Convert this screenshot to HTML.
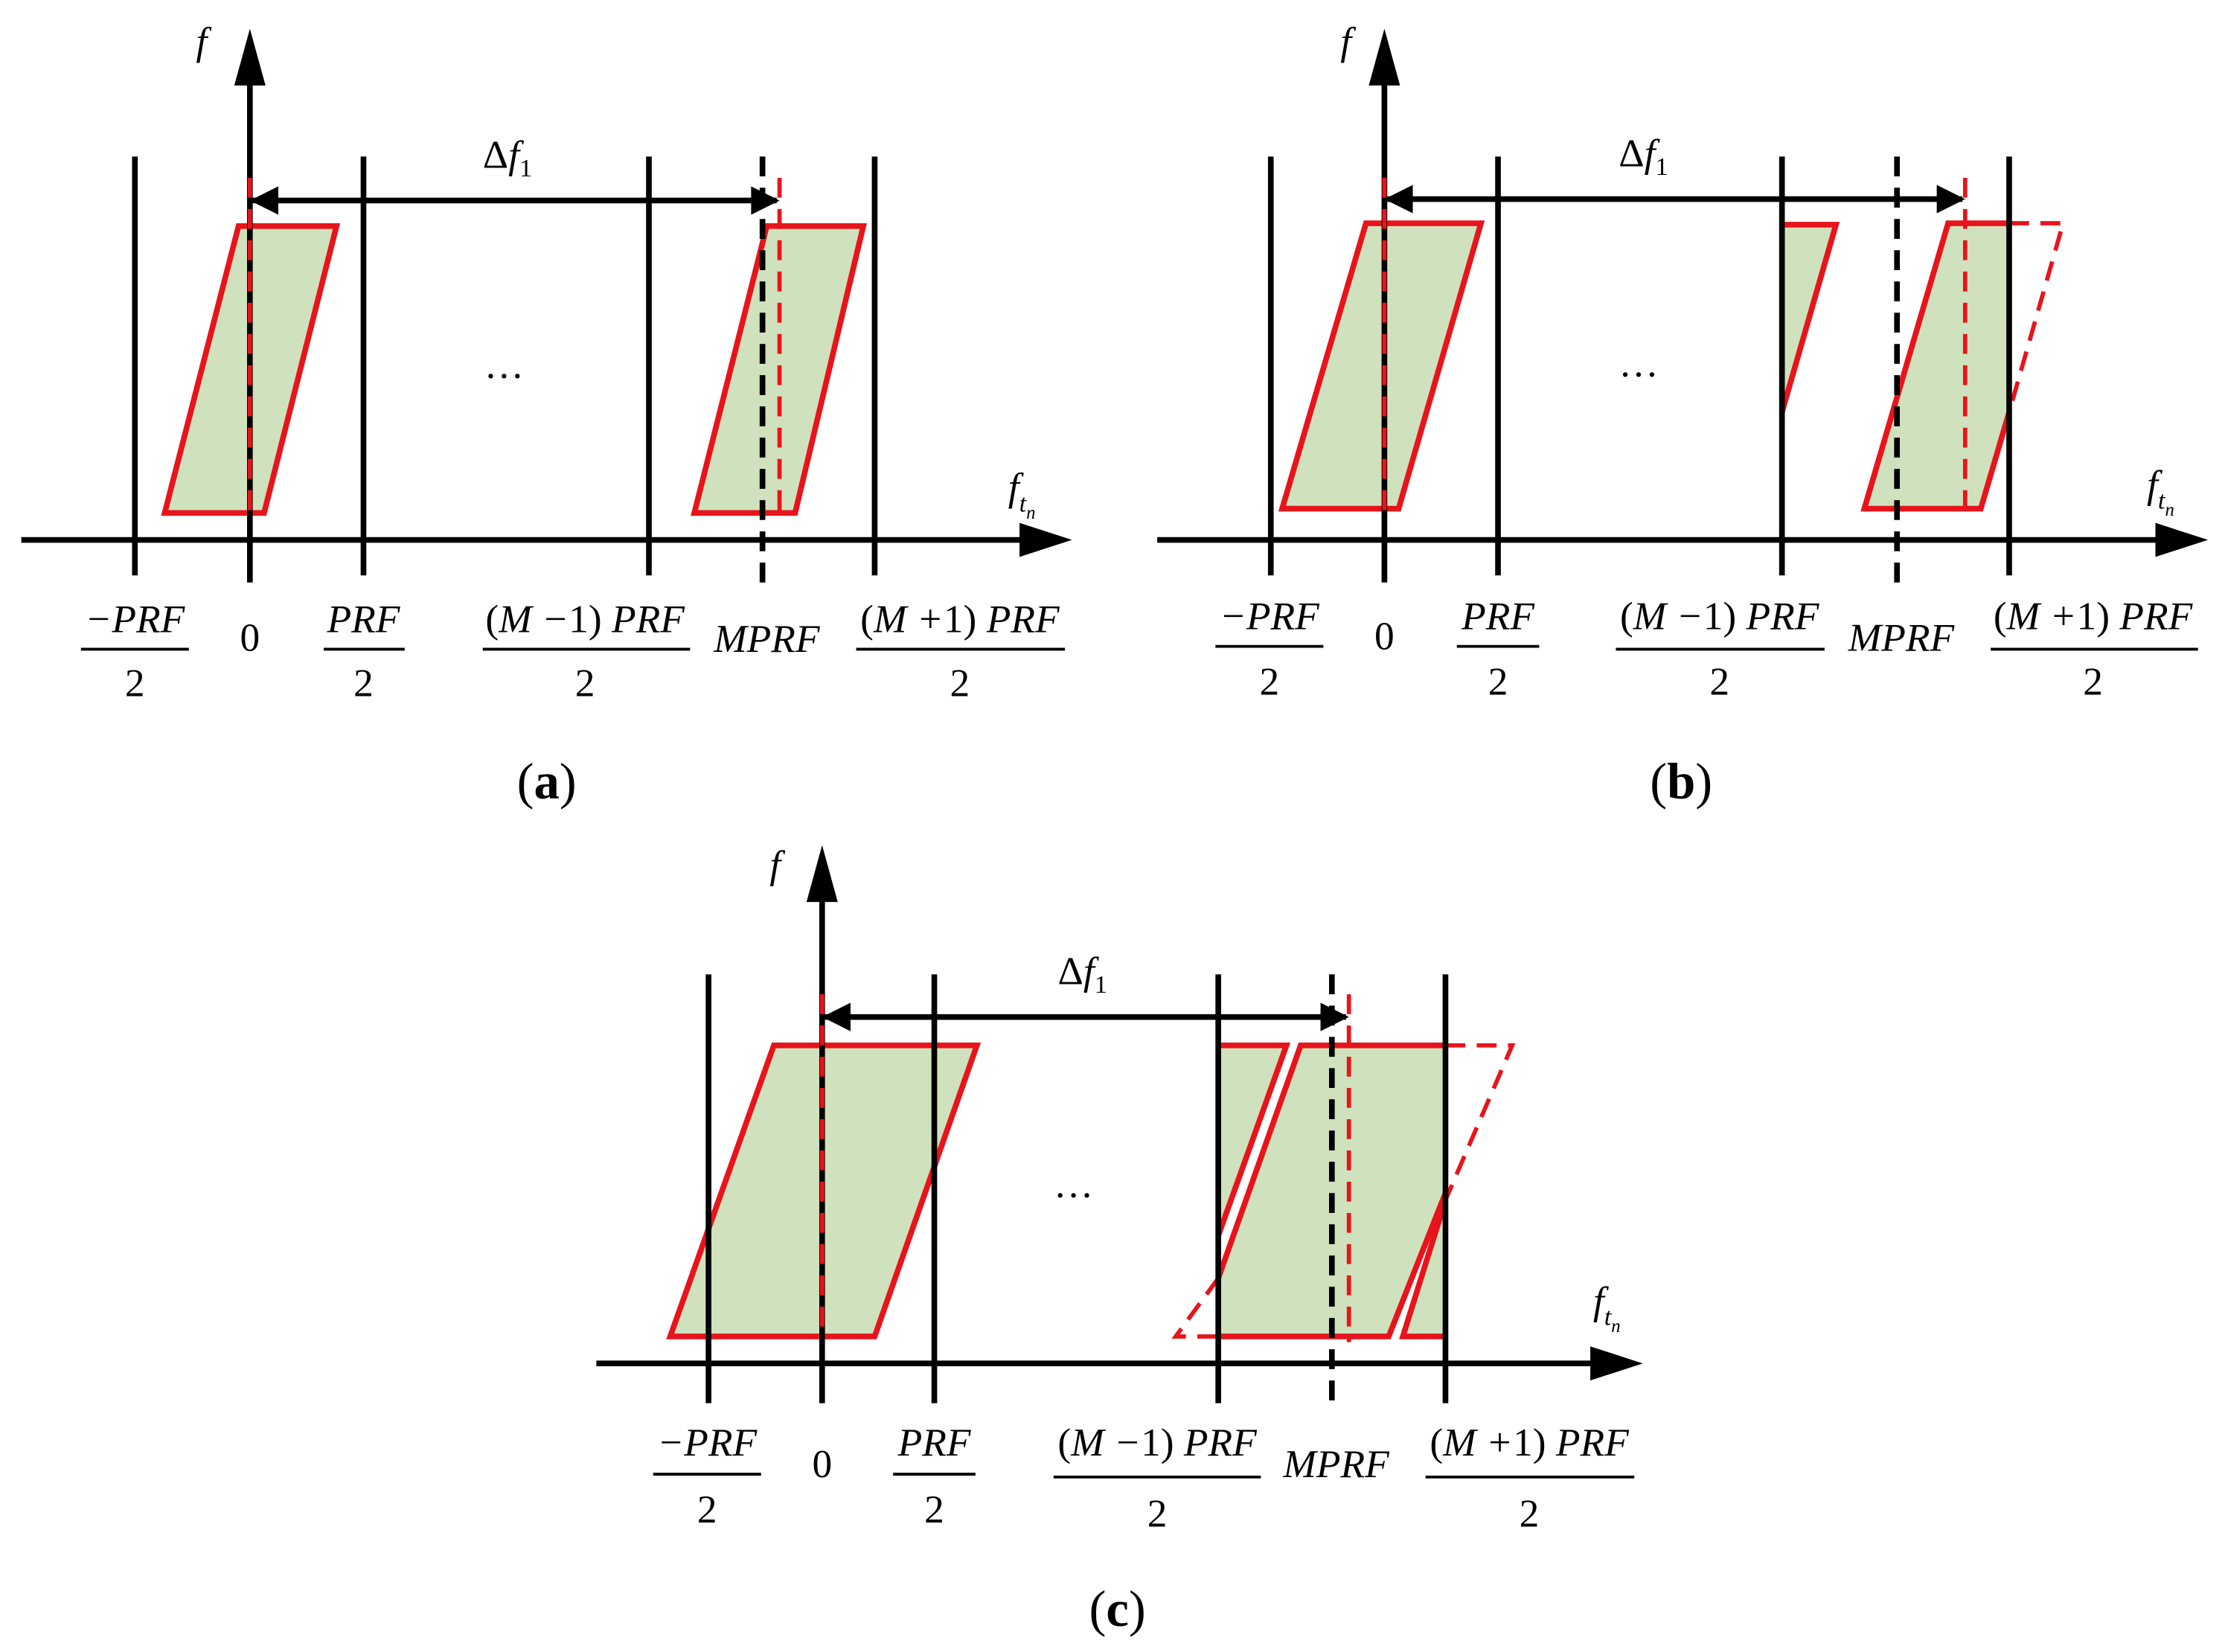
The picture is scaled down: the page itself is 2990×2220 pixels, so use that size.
<!DOCTYPE html>
<html><head><meta charset="utf-8"><style>
html,body{margin:0;padding:0;background:#fff;}
svg{display:block;}
text{font-family:"Liberation Serif",serif;font-style:italic;fill:#000;}
.n{font-style:normal;}
</style></head><body>
<svg width="2990" height="2220" viewBox="0 0 1567 1163" xmlns="http://www.w3.org/2000/svg">
<g stroke-linecap="butt">
<!-- ===== Panel A ===== -->
<polygon points="168,159 237,159 186,361 116,361" fill="#cfe2bd" stroke="#e8141b" stroke-width="4"/>
<polygon points="540,159 608,159 560,361 489,361" fill="#cfe2bd" stroke="#e8141b" stroke-width="4"/>
<line x1="15" y1="380" x2="725" y2="380" stroke="#000" stroke-width="4"/>
<polygon points="755,380 718,368 718,392" fill="#000"/>
<line x1="176" y1="410" x2="176" y2="55" stroke="#000" stroke-width="4"/>
<polygon points="176,20 165,60 187,60" fill="#000"/>
<line x1="95" y1="110" x2="95" y2="405" stroke="#000" stroke-width="4"/>
<line x1="256" y1="110" x2="256" y2="405" stroke="#000" stroke-width="4"/>
<line x1="457" y1="110" x2="457" y2="405" stroke="#000" stroke-width="4"/>
<line x1="616" y1="110" x2="616" y2="405" stroke="#000" stroke-width="4"/>
<line x1="537" y1="110" x2="537" y2="410" stroke="#000" stroke-width="4" stroke-dasharray="14,8"/>
<line x1="176" y1="125" x2="176" y2="360" stroke="#e8141b" stroke-width="3" stroke-dasharray="14,8"/>
<line x1="549" y1="125" x2="549" y2="360" stroke="#e8141b" stroke-width="3" stroke-dasharray="14,8"/>
<line x1="178" y1="141" x2="547" y2="141" stroke="#000" stroke-width="4"/>
<polygon points="176,141 196,131 196,151" fill="#000"/>
<polygon points="549,141 529,131 529,151" fill="#000"/>
<!-- ===== Panel B ===== -->
<polygon points="962,157 1043,157 985,358 903,358" fill="#cfe2bd" stroke="#e8141b" stroke-width="4"/>
<polygon points="1255,158 1293,158 1255,290" fill="#cfe2bd" stroke="none"/>
<polyline points="1255,158 1293,158 1255,290" fill="none" stroke="#e8141b" stroke-width="4"/>
<polygon points="1372,157 1415,157 1415,290 1395,358 1313,358" fill="#cfe2bd" stroke="none"/>
<polyline points="1415,157 1372,157 1313,358 1395,358 1415,290" fill="none" stroke="#e8141b" stroke-width="4"/>
<polyline points="1415,157 1453,157 1415,290" fill="none" stroke="#e8141b" stroke-width="3" stroke-dasharray="14,8"/>
<line x1="815" y1="380" x2="1525" y2="380" stroke="#000" stroke-width="4"/>
<polygon points="1555,380 1518,368 1518,392" fill="#000"/>
<line x1="975" y1="410" x2="975" y2="55" stroke="#000" stroke-width="4"/>
<polygon points="975,20 964,60 986,60" fill="#000"/>
<line x1="895" y1="110" x2="895" y2="405" stroke="#000" stroke-width="4"/>
<line x1="1055" y1="110" x2="1055" y2="405" stroke="#000" stroke-width="4"/>
<line x1="1255" y1="110" x2="1255" y2="405" stroke="#000" stroke-width="4"/>
<line x1="1415" y1="110" x2="1415" y2="405" stroke="#000" stroke-width="4"/>
<line x1="1336" y1="110" x2="1336" y2="410" stroke="#000" stroke-width="4" stroke-dasharray="14,8"/>
<line x1="975" y1="125" x2="975" y2="360" stroke="#e8141b" stroke-width="3" stroke-dasharray="14,8"/>
<line x1="1384" y1="125" x2="1384" y2="358" stroke="#e8141b" stroke-width="3" stroke-dasharray="14,8"/>
<line x1="977" y1="140" x2="1382" y2="140" stroke="#000" stroke-width="4"/>
<polygon points="975,140 995,130 995,150" fill="#000"/>
<polygon points="1384,140 1364,130 1364,150" fill="#000"/>
<!-- ===== Panel C ===== -->
<polygon points="545,736 688,736 616,941 472,941" fill="#cfe2bd" stroke="#e8141b" stroke-width="4"/>
<polygon points="858,736 906,736 858,870" fill="#cfe2bd"/>
<polyline points="858,736 906,736 858,870" fill="none" stroke="#e8141b" stroke-width="4"/>
<polygon points="916,736 1018,736 1018,840 978,941 858,941 858,900" fill="#cfe2bd"/>
<polyline points="1018,736 916,736 858,900" fill="none" stroke="#e8141b" stroke-width="4"/>
<polyline points="858,941 978,941 1018,840" fill="none" stroke="#e8141b" stroke-width="4"/>
<polygon points="1018,845 1018,941 988,941" fill="#cfe2bd"/>
<polyline points="1018,845 988,941 1018,941" fill="none" stroke="#e8141b" stroke-width="4"/>
<polyline points="858,900 828,941 858,941" fill="none" stroke="#e8141b" stroke-width="3" stroke-dasharray="14,8"/>
<polyline points="1018,736 1065,736 1018,845" fill="none" stroke="#e8141b" stroke-width="3" stroke-dasharray="14,8"/>
<line x1="420" y1="960" x2="1127" y2="960" stroke="#000" stroke-width="4"/>
<polygon points="1157,960 1120,948 1120,972" fill="#000"/>
<line x1="579" y1="988" x2="579" y2="630" stroke="#000" stroke-width="4"/>
<polygon points="579,595 568,635 590,635" fill="#000"/>
<line x1="499" y1="686" x2="499" y2="988" stroke="#000" stroke-width="4"/>
<line x1="658" y1="686" x2="658" y2="988" stroke="#000" stroke-width="4"/>
<line x1="858" y1="686" x2="858" y2="988" stroke="#000" stroke-width="4"/>
<line x1="1018" y1="686" x2="1018" y2="988" stroke="#000" stroke-width="4"/>
<line x1="938" y1="686" x2="938" y2="992" stroke="#000" stroke-width="4" stroke-dasharray="14,8"/>
<line x1="579" y1="700" x2="579" y2="940" stroke="#e8141b" stroke-width="3" stroke-dasharray="14,8"/>
<line x1="950" y1="700" x2="950" y2="945" stroke="#e8141b" stroke-width="3" stroke-dasharray="14,8"/>
<line x1="581" y1="716" x2="948" y2="716" stroke="#000" stroke-width="4"/>
<polygon points="579,716 599,706 599,726" fill="#000"/>
<polygon points="950,716 930,706 930,726" fill="#000"/>
</g>
<!-- Labels A -->
<g font-size="28">
<text x="138" y="38">f</text>
<text x="340" y="118" class="n">Δ<tspan font-style="italic">f</tspan><tspan font-size="18" dy="6">1</tspan></text>
<text x="710" y="352">f<tspan font-size="18" dy="8">t</tspan><tspan font-size="13" dy="5">n</tspan></text>
<text x="341" y="266" class="n">…</text>
<text x="95" y="445" text-anchor="middle">−PRF</text><line x1="57" y1="457" x2="133" y2="457" stroke="#000" stroke-width="2"/><text x="95" y="490" text-anchor="middle" class="n">2</text>
<text x="176" y="458" text-anchor="middle" class="n">0</text>
<text x="256" y="445" text-anchor="middle">PRF</text><line x1="228" y1="457" x2="285" y2="457" stroke="#000" stroke-width="2"/><text x="256" y="490" text-anchor="middle" class="n">2</text>
<text x="412" y="445" text-anchor="middle"><tspan class="n">(</tspan>M −<tspan class="n">1)</tspan> PRF</text><line x1="340" y1="457" x2="486" y2="457" stroke="#000" stroke-width="2"/><text x="412" y="490" text-anchor="middle" class="n">2</text>
<text x="540" y="459" text-anchor="middle">MPRF</text>
<text x="676" y="445" text-anchor="middle"><tspan class="n">(</tspan>M +<tspan class="n">1)</tspan> PRF</text><line x1="603" y1="457" x2="750" y2="457" stroke="#000" stroke-width="2"/><text x="676" y="490" text-anchor="middle" class="n">2</text>
</g>
<text x="385" y="562" font-size="36" text-anchor="middle" class="n">(<tspan font-weight="bold">a</tspan>)</text>
<!-- Labels B -->
<g font-size="28">
<text x="944" y="38">f</text>
<text x="1140" y="117" class="n">Δ<tspan font-style="italic">f</tspan><tspan font-size="18" dy="6">1</tspan></text>
<text x="1512" y="350">f<tspan font-size="18" dy="8">t</tspan><tspan font-size="13" dy="5">n</tspan></text>
<text x="1140" y="265" class="n">…</text>
<text x="894" y="443" text-anchor="middle">−PRF</text><line x1="856" y1="455" x2="932" y2="455" stroke="#000" stroke-width="2"/><text x="894" y="489" text-anchor="middle" class="n">2</text>
<text x="975" y="457" text-anchor="middle" class="n">0</text>
<text x="1055" y="443" text-anchor="middle">PRF</text><line x1="1026" y1="455" x2="1084" y2="455" stroke="#000" stroke-width="2"/><text x="1055" y="489" text-anchor="middle" class="n">2</text>
<text x="1211" y="443" text-anchor="middle"><tspan class="n">(</tspan>M −<tspan class="n">1)</tspan> PRF</text><line x1="1138" y1="457" x2="1285" y2="457" stroke="#000" stroke-width="2"/><text x="1211" y="489" text-anchor="middle" class="n">2</text>
<text x="1339" y="458" text-anchor="middle">MPRF</text>
<text x="1474" y="443" text-anchor="middle"><tspan class="n">(</tspan>M +<tspan class="n">1)</tspan> PRF</text><line x1="1402" y1="457" x2="1548" y2="457" stroke="#000" stroke-width="2"/><text x="1474" y="489" text-anchor="middle" class="n">2</text>
</g>
<text x="1184" y="562" font-size="36" text-anchor="middle" class="n">(<tspan font-weight="bold">b</tspan>)</text>
<!-- Labels C -->
<g font-size="28">
<text x="542" y="618">f</text>
<text x="745" y="693" class="n">Δ<tspan font-style="italic">f</tspan><tspan font-size="18" dy="6">1</tspan></text>
<text x="1122" y="925">f<tspan font-size="18" dy="8">t</tspan><tspan font-size="13" dy="5">n</tspan></text>
<text x="742" y="843" class="n">…</text>
<text x="498" y="1025" text-anchor="middle">−PRF</text><line x1="460" y1="1038" x2="536" y2="1038" stroke="#000" stroke-width="2"/><text x="498" y="1072" text-anchor="middle" class="n">2</text>
<text x="579" y="1040" text-anchor="middle" class="n">0</text>
<text x="658" y="1025" text-anchor="middle">PRF</text><line x1="629" y1="1038" x2="687" y2="1038" stroke="#000" stroke-width="2"/><text x="658" y="1072" text-anchor="middle" class="n">2</text>
<text x="815" y="1025" text-anchor="middle"><tspan class="n">(</tspan>M −<tspan class="n">1)</tspan> PRF</text><line x1="742" y1="1040" x2="888" y2="1040" stroke="#000" stroke-width="2"/><text x="815" y="1075" text-anchor="middle" class="n">2</text>
<text x="941" y="1040" text-anchor="middle">MPRF</text>
<text x="1077" y="1025" text-anchor="middle"><tspan class="n">(</tspan>M +<tspan class="n">1)</tspan> PRF</text><line x1="1004" y1="1040" x2="1151" y2="1040" stroke="#000" stroke-width="2"/><text x="1077" y="1075" text-anchor="middle" class="n">2</text>
</g>
<text x="787" y="1145" font-size="36" text-anchor="middle" class="n">(<tspan font-weight="bold">c</tspan>)</text>
</svg>
</body></html>
